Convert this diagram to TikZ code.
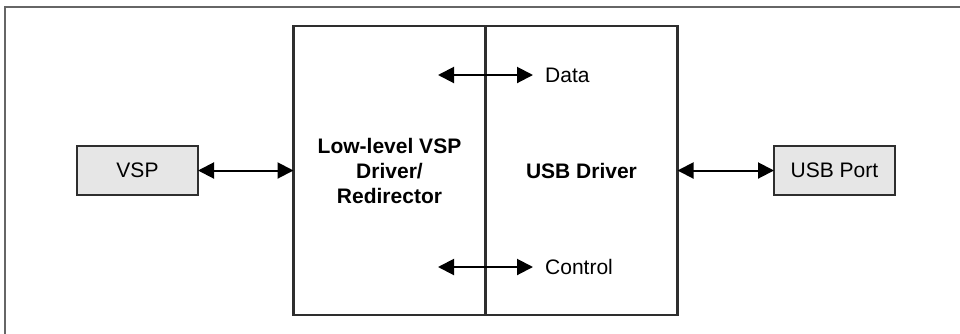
\documentclass[tikz,border=0pt]{standalone}
\usepackage{fontspec}
\setmainfont{Liberation Sans}
\usepackage{xcolor}
\usepackage{tikz}
\usetikzlibrary{arrows.meta, positioning}

\definecolor{boxgray}{HTML}{E6E6E6}
\definecolor{linegray}{HTML}{2E2E2E}
\definecolor{framegray}{HTML}{666666}

\begin{document}
\begin{tikzpicture}[
  x=1pt, y=-1pt,
  every node/.style = {font=\fontsize{21}{25}\selectfont},
  drvbox/.style   = {rectangle, draw=linegray, line width=2.2pt, inner sep=0pt,
                     outer sep=0pt, minimum width=192pt, minimum height=289pt,
                     align=center, font=\fontsize{21}{25}\selectfont\bfseries},
  endbox/.style   = {rectangle, draw=linegray, fill=boxgray, line width=2.2pt,
                     inner sep=0pt, outer sep=0pt, minimum width=121pt,
                     minimum height=49pt, align=center},
  lbl/.style      = {anchor=west, inner sep=0pt},
  biarr/.style    = {{Triangle[length=16pt,width=16pt]}-{Triangle[length=16pt,width=16pt]},
                     line width=2pt, black},
  frameline/.style = {draw=framegray, line width=2pt},
]
\useasboundingbox (0,0) rectangle (960,333);

%% ── Outer frame ───────────────────────────────────────────────────
\draw[frameline] (5,345) -- (5,7) -- (970,7);

%% ── Driver stack ──────────────────────────────────────────────────
\node[drvbox] (lowlvl) at (389.5,170.5) {Low-level VSP\\Driver/\\Redirector};
\node[drvbox, right=0pt of lowlvl] (usbdrv) {USB Driver};

%% ── End points ────────────────────────────────────────────────────
\node[endbox] (vsp)     at (137.5,170.5) {VSP};
\node[endbox] (usbport) at (834.5,170.5) {USB Port};

%% ── Data and control paths ────────────────────────────────────────
\coordinate (dataL) at (438,75);
\coordinate (dataR) at (533,75);
\coordinate (ctrlL) at (438,267);
\coordinate (ctrlR) at (533,267);
\node[lbl, right=12pt of dataR] (data) {Data};
\node[lbl, right=12pt of ctrlR] (ctrl) {Control};

%% ── Arrows ────────────────────────────────────────────────────────
\draw[biarr] (vsp)    -- (lowlvl);
\draw[biarr] (usbdrv) -- (usbport);
\draw[biarr] (dataL)  -- (dataR);
\draw[biarr] (ctrlL)  -- (ctrlR);

\end{tikzpicture}
\end{document}
